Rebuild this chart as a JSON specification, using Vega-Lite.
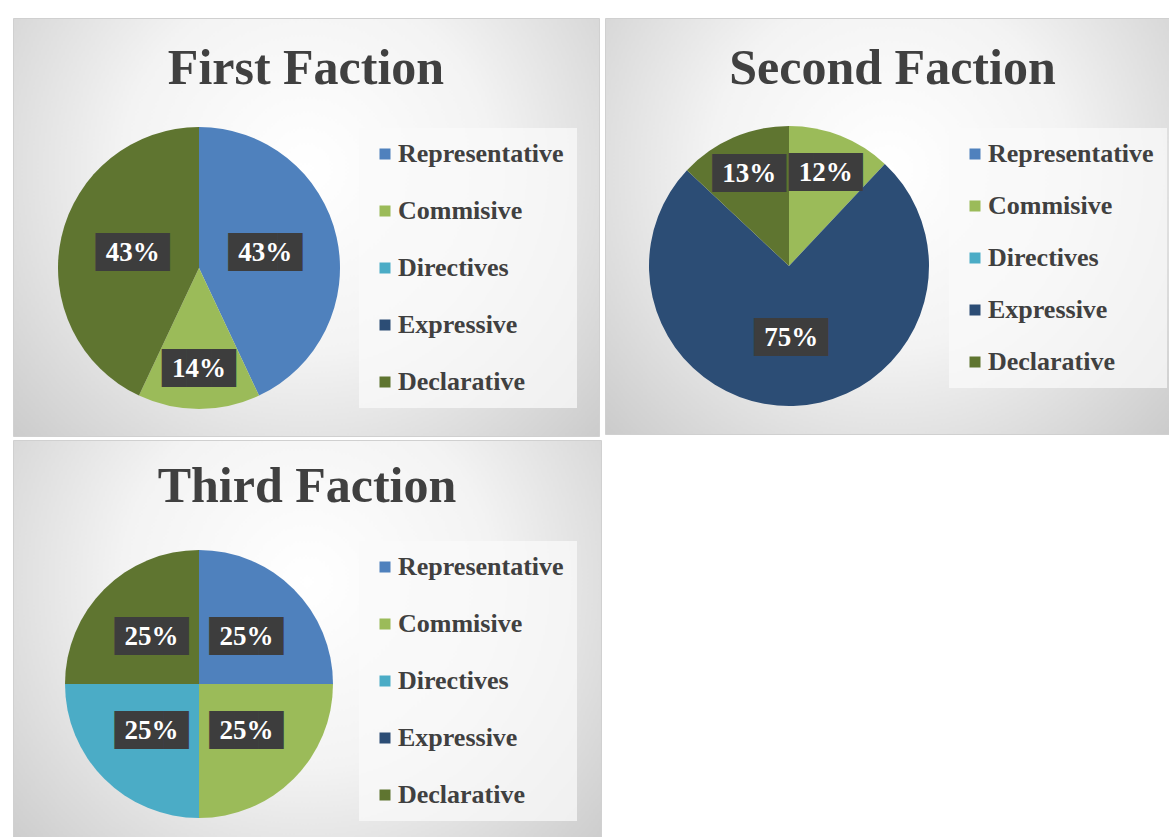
{
  "$schema": "https://vega.github.io/schema/vega-lite/v6.json",
  "background": "white",
  "padding": {"left": 12, "top": 17, "right": 0, "bottom": 0},
  "autosize": {"type": "pad"},
  "datasets": {
    "speech": [
      {"faction": "First Faction", "rank": 1, "category": "Representative", "value": 0.43},
      {"faction": "First Faction", "rank": 2, "category": "Commisive", "value": 0.14},
      {"faction": "First Faction", "rank": 3, "category": "Directives", "value": 0},
      {"faction": "First Faction", "rank": 4, "category": "Expressive", "value": 0},
      {"faction": "First Faction", "rank": 5, "category": "Declarative", "value": 0.43},
      {"faction": "Second Faction", "rank": 1, "category": "Representative", "value": 0},
      {"faction": "Second Faction", "rank": 2, "category": "Commisive", "value": 0.12},
      {"faction": "Second Faction", "rank": 3, "category": "Directives", "value": 0},
      {"faction": "Second Faction", "rank": 4, "category": "Expressive", "value": 0.75},
      {"faction": "Second Faction", "rank": 5, "category": "Declarative", "value": 0.13},
      {"faction": "Third Faction", "rank": 1, "category": "Representative", "value": 0.25},
      {"faction": "Third Faction", "rank": 2, "category": "Commisive", "value": 0.25},
      {"faction": "Third Faction", "rank": 3, "category": "Directives", "value": 0.25},
      {"faction": "Third Faction", "rank": 4, "category": "Expressive", "value": 0},
      {"faction": "Third Faction", "rank": 5, "category": "Declarative", "value": 0.25}
    ]
  },
  "config": {
    "view": {"stroke": "#d0d0d0"},
    "title": {"font": "Liberation Serif", "fontSize": 50, "fontWeight": "bold", "color": "#404040", "anchor": "middle", "baseline": "alphabetic"},
    "legend": {
      "title": null, "symbolType": "square", "symbolSize": 121, "symbolStrokeWidth": 0,
      "labelFont": "Liberation Serif", "labelFontSize": 26, "labelFontWeight": "bold", "labelColor": "#404040",
      "labelOffset": 0, "padding": 13, "fillColor": "rgba(250,250,250,0.75)", "labelLimit": 0
    }
  },
  "spacing": 2,
  "resolve": {"scale": {"color": "independent", "theta": "independent"}, "legend": {"color": "independent"}},
  "vconcat": [
    {
      "spacing": 4,
      "resolve": {"scale": {"color": "independent", "theta": "independent"}, "legend": {"color": "independent"}},
      "hconcat": [
        {
          "width": 586, "height": 418,
          "view": {"fill": {"gradient": "radial", "x1": 0.5, "y1": 0.4, "r1": 0, "x2": 0.5, "y2": 0.4, "r2": 0.7, "stops": [{"offset": 0, "color": "#ffffff"}, {"offset": 0.45, "color": "#f3f3f3"}, {"offset": 1, "color": "#c9c9c9"}]}, "stroke": "#d0d0d0"},
          "title": {"text": "First Faction", "offset": -76},
          "data": {"name": "speech"},
          "transform": [{"filter": "datum.faction === 'First Faction'"}],
          "encoding": {"theta": {"field": "value", "type": "quantitative", "stack": true}, "order": {"field": "rank", "type": "quantitative"}},
          "layer": [
            {"mark": {"type": "arc", "outerRadius": 141, "x": 186, "y": 250},
             "encoding": {"color": {"field": "category", "type": "nominal",
               "scale": {"domain": ["Representative", "Commisive", "Directives", "Expressive", "Declarative"], "range": ["#4f81bd", "#9bbb59", "#4bacc6", "#2c4d75", "#5f7530"]},
               "legend": {"orient": "none", "legendX": 346, "legendY": 110, "rowPadding": 31}}}},
            {"transform": [{"filter": "datum.value > 0"}],
             "mark": {"type": "text", "text": "███", "font": "DejaVu Sans", "fontSize": 32, "color": "#3d3d3d", "baseline": "middle", "x": 186, "y": 250, "radius": {"expr": "datum.value < 0.2 ? 101 : 68"}}},
            {"transform": [{"filter": "datum.value > 0"}],
             "mark": {"type": "text", "font": "Liberation Serif", "fontSize": 27, "fontWeight": "bold", "color": "#ffffff", "baseline": "middle", "x": 186, "y": 250, "radius": {"expr": "datum.value < 0.2 ? 101 : 68"}},
             "encoding": {"text": {"field": "value", "type": "quantitative", "format": ".0%"}}}
          ]
        },
        {
          "width": 567, "height": 416,
          "view": {"fill": {"gradient": "radial", "x1": 0.5, "y1": 0.4, "r1": 0, "x2": 0.5, "y2": 0.4, "r2": 0.7, "stops": [{"offset": 0, "color": "#ffffff"}, {"offset": 0.45, "color": "#f3f3f3"}, {"offset": 1, "color": "#c9c9c9"}]}, "stroke": "#d0d0d0"},
          "title": {"text": "Second Faction", "offset": -76, "dx": 4},
          "data": {"name": "speech"},
          "transform": [{"filter": "datum.faction === 'Second Faction'"}],
          "encoding": {"theta": {"field": "value", "type": "quantitative", "stack": true}, "order": {"field": "rank", "type": "quantitative"}},
          "layer": [
            {"mark": {"type": "arc", "outerRadius": 140, "x": 184, "y": 248},
             "encoding": {"color": {"field": "category", "type": "nominal",
               "scale": {"domain": ["Representative", "Commisive", "Directives", "Expressive", "Declarative"], "range": ["#4f81bd", "#9bbb59", "#4bacc6", "#2c4d75", "#5f7530"]},
               "legend": {"orient": "none", "legendX": 344, "legendY": 110, "rowPadding": 26}}}},
            {"transform": [{"filter": "datum.value > 0"}],
             "mark": {"type": "text", "text": "███", "font": "DejaVu Sans", "fontSize": 32, "color": "#3d3d3d", "baseline": "middle", "x": 184, "y": 248, "radius": {"expr": "datum.value < 0.2 ? 100 : 72"}}},
            {"transform": [{"filter": "datum.value > 0"}],
             "mark": {"type": "text", "font": "Liberation Serif", "fontSize": 27, "fontWeight": "bold", "color": "#ffffff", "baseline": "middle", "x": 184, "y": 248, "radius": {"expr": "datum.value < 0.2 ? 100 : 72"}},
             "encoding": {"text": {"field": "value", "type": "quantitative", "format": ".0%"}}}
          ]
        }
      ]
    },
    {
      "width": 588, "height": 400,
      "view": {"fill": {"gradient": "radial", "x1": 0.5, "y1": 0.4, "r1": 0, "x2": 0.5, "y2": 0.4, "r2": 0.7, "stops": [{"offset": 0, "color": "#ffffff"}, {"offset": 0.45, "color": "#f3f3f3"}, {"offset": 1, "color": "#c9c9c9"}]}, "stroke": "#d0d0d0"},
      "title": {"text": "Third Faction", "offset": -72},
      "data": {"name": "speech"},
      "transform": [{"filter": "datum.faction === 'Third Faction'"}],
      "encoding": {"theta": {"field": "value", "type": "quantitative", "stack": true}, "order": {"field": "rank", "type": "quantitative"}},
      "layer": [
        {"mark": {"type": "arc", "outerRadius": 134, "x": 186, "y": 244},
         "encoding": {"color": {"field": "category", "type": "nominal",
           "scale": {"domain": ["Representative", "Commisive", "Directives", "Expressive", "Declarative"], "range": ["#4f81bd", "#9bbb59", "#4bacc6", "#2c4d75", "#5f7530"]},
           "legend": {"orient": "none", "legendX": 346, "legendY": 101, "rowPadding": 31}}}},
        {"transform": [{"filter": "datum.value > 0"}],
         "mark": {"type": "text", "text": "███", "font": "DejaVu Sans", "fontSize": 32, "color": "#3d3d3d", "baseline": "middle", "x": 186, "y": 244, "radius": 67}},
        {"transform": [{"filter": "datum.value > 0"}],
         "mark": {"type": "text", "font": "Liberation Serif", "fontSize": 27, "fontWeight": "bold", "color": "#ffffff", "baseline": "middle", "x": 186, "y": 244, "radius": 67},
         "encoding": {"text": {"field": "value", "type": "quantitative", "format": ".0%"}}}
      ]
    }
  ]
}
